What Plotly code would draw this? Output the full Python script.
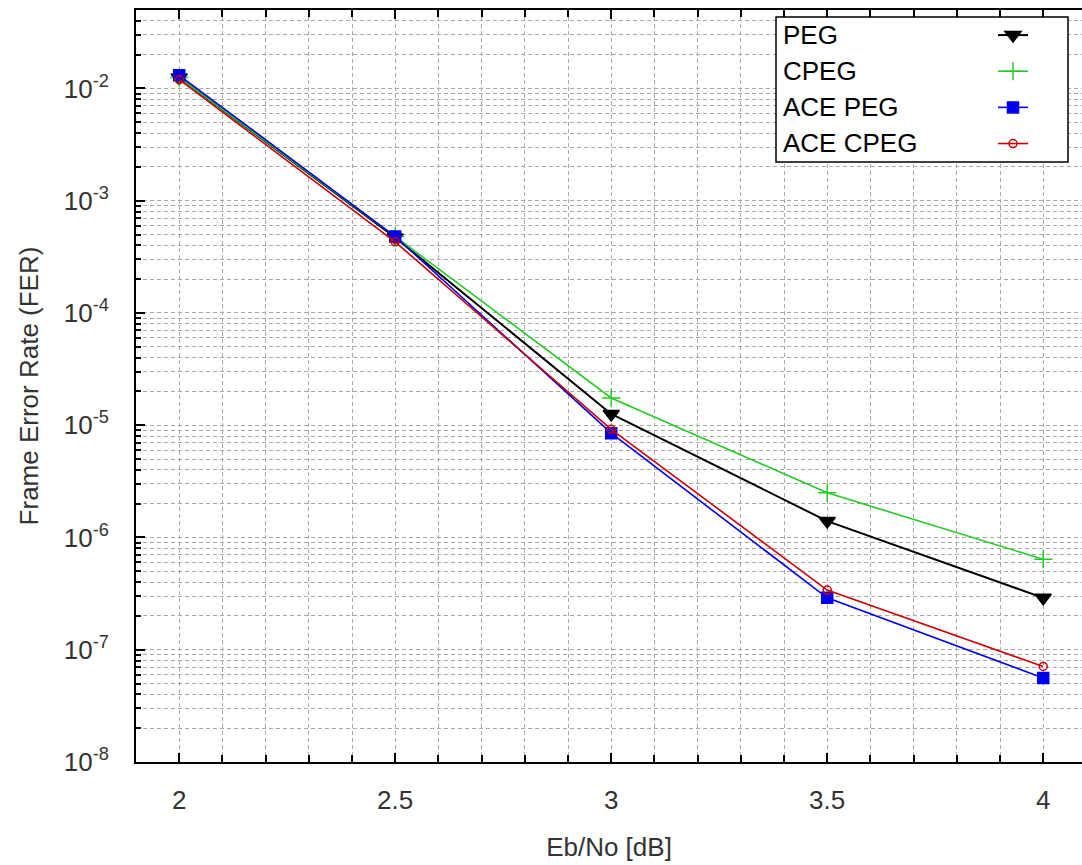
import plotly.graph_objects as go
import math

eb_no = [2.0, 2.5, 3.0, 3.5, 4.0]
fer_peg = [1.25e-2, 4.7e-4, 1.26e-5, 1.4e-6, 2.9e-7]
fer_cpeg = [1.25e-2, 4.8e-4, 1.75e-5, 2.5e-6, 6.4e-7]
fer_ace_peg = [1.31e-2, 4.8e-4, 8.5e-6, 2.9e-7, 5.6e-8]
fer_ace_cpeg = [1.2e-2, 4.3e-4, 9.2e-6, 3.4e-7, 7.1e-8]

series_names = ["PEG", "CPEG", "ACE PEG", "ACE CPEG"]
x_tick_vals = [2, 2.5, 3, 3.5, 4]
x_tick_text = ["2", "2.5", "3", "3.5", "4"]
y_exponents = [-8, -7, -6, -5, -4, -3, -2]
y_tick_vals = [10.0 ** e for e in y_exponents]
y_tick_text = ["10<sup>%d</sup>" % e for e in y_exponents]

W, H = 1082, 865
L, R, T, B = 136, 0, 10, 103
PW, PH = W - L - R, H - T - B

def px(xp):
    return (xp - L) / PW

def py(yp):
    return (H - B - yp) / PH

FONT = "Liberation Sans, Arial, sans-serif"
TXT = "#333333"
GRID = "#a8a8a8"

styles = [
    dict(color="#000000", width=2, symbol="triangle-down", size=14),
    dict(color="#22cc22", width=1.6, symbol="cross-thin", size=13),
    dict(color="#0000ee", width=1.6, symbol="square", size=11),
    dict(color="#cc0000", width=1.6, symbol="circle-open", size=8),
]
data = [fer_peg, fer_cpeg, fer_ace_peg, fer_ace_cpeg]

fig = go.Figure()
for name, ys, st in zip(series_names, data, styles):
    fig.add_trace(go.Scatter(
        x=eb_no, y=ys, mode="lines+markers", name="\u00a0",
        line=dict(color=st["color"], width=st["width"]),
        marker=dict(symbol=st["symbol"], size=st["size"], color=st["color"],
                    line=dict(color=st["color"], width=1.5)),
        showlegend=True,
    ))

axis_common = dict(
    showline=True, linecolor="#000000", linewidth=2,
    ticks="inside", tickcolor="#000000", tickwidth=1.5, ticklen=9,
    showgrid=True, gridcolor=GRID, gridwidth=1, griddash="4px,3px",
    zeroline=False,
    tickfont=dict(family=FONT, size=26, color=TXT),
)

fig.update_xaxes(
    **axis_common,
    range=[1.9, 1.9 + PW / 432.0],
    tickmode="array", tickvals=x_tick_vals, ticktext=x_tick_text,
    mirror="allticks",
    minor=dict(dtick=0.1, tick0=2, ticks="inside", ticklen=7, tickwidth=1.5,
               tickcolor="#000000", showgrid=True, gridcolor=GRID, griddash="4px,3px"),
    ticklabelstandoff=14,
    title=dict(text="Eb/No [dB]", font=dict(family=FONT, size=26, color=TXT), standoff=24),
)
fig.update_yaxes(
    **axis_common,
    type="log",
    range=[-8, math.log10(0.05)],
    tickmode="array", tickvals=y_tick_vals, ticktext=y_tick_text,
    minor=dict(dtick="D1", ticks="inside", ticklen=5, tickwidth=1.5,
               tickcolor="#000000", showgrid=True, gridcolor=GRID, griddash="4px,3px"),
    ticklabelstandoff=20,
    title=dict(text="Frame Error Rate (FER)", font=dict(family=FONT, size=26, color=TXT), standoff=18),
)

# legend box and labels
fig.add_shape(type="rect", xref="paper", yref="paper",
              x0=px(776), x1=px(1068), y0=py(162), y1=py(17),
              line=dict(color="#000000", width=1.5), fillcolor="#ffffff", layer="above")
row_y = [35, 71, 107, 143]
for name, ry in zip(series_names, row_y):
    fig.add_annotation(text=name, xref="paper", yref="paper", x=px(781), y=py(ry),
                       xanchor="left", yanchor="middle", showarrow=False,
                       font=dict(family=FONT, size=26, color="#000000"))

fig.update_layout(
    width=W, height=H,
    margin=dict(l=L, r=R, t=T, b=B),
    paper_bgcolor="#ffffff", plot_bgcolor="#ffffff",
    showlegend=True,
    legend=dict(x=px(993), y=py(12), xanchor="left", yanchor="top",
                bgcolor="rgba(0,0,0,0)", borderwidth=0,
                font=dict(family=FONT, size=25.5), tracegroupgap=0,
                itemwidth=30),
)

fig.write_html("out.html")
